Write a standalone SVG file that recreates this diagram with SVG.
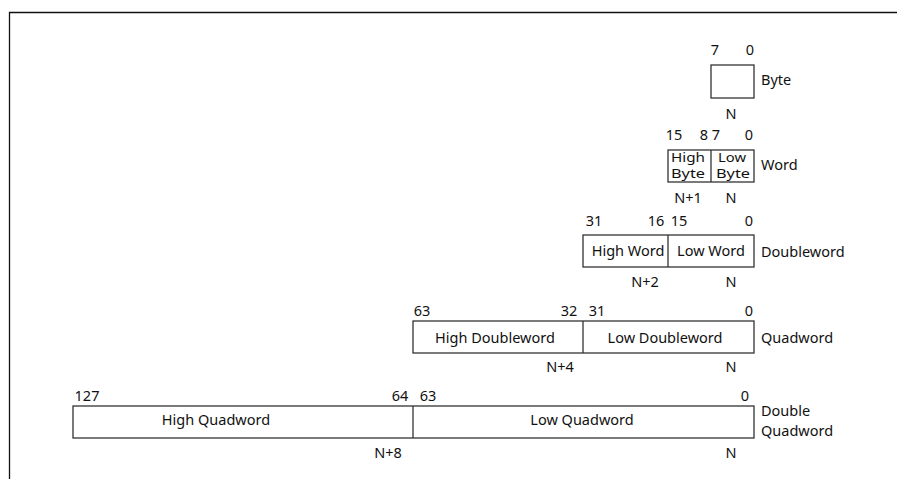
<svg xmlns="http://www.w3.org/2000/svg" width="897" height="479" viewBox="0 0 897 479">
  <style>
    text { font-family: "Noto Sans", "Open Sans", sans-serif; font-size: 14.5px; fill: #111111; }
    .m { text-anchor: middle; }
    .small { font-size: 12.5px; }
    .box { fill: #ffffff; stroke: #333333; stroke-width: 1.3; }
    .div { stroke: #333333; stroke-width: 1.3; fill: none; }
    .frame { fill: none; stroke: #111111; stroke-width: 1.3; }
  </style>
  <rect width="897" height="479" fill="#ffffff"/>
  <path class="frame" d="M9.5 479 V12.5 H897"/>

  <g id="byte">
    <text class="m" x="715" y="55">7</text>
    <text class="m" x="750" y="55">0</text>
    <rect class="box" x="711" y="65" width="43" height="33"/>
    <text x="761" y="85">Byte</text>
    <text class="m" x="731" y="119">N</text>
  </g>

  <g id="word">
    <text class="m" x="674" y="140">15</text>
    <text class="m" x="704" y="140">8</text>
    <text class="m" x="716" y="140">7</text>
    <text class="m" x="749" y="140">0</text>
    <rect class="box" x="668" y="150" width="86" height="32"/>
    <line class="div" x1="711" y1="150" x2="711" y2="182"/>
    <text class="small" x="671" y="162" textLength="34" lengthAdjust="spacingAndGlyphs">High</text>
    <text class="small" x="671" y="178" textLength="34" lengthAdjust="spacingAndGlyphs">Byte</text>
    <text class="small" x="718" y="162" textLength="28" lengthAdjust="spacingAndGlyphs">Low</text>
    <text class="small" x="716" y="178" textLength="34" lengthAdjust="spacingAndGlyphs">Byte</text>
    <text x="761" y="170">Word</text>
    <text class="m" x="688" y="203">N+1</text>
    <text class="m" x="731" y="203">N</text>
  </g>

  <g id="doubleword">
    <text class="m" x="594" y="226">31</text>
    <text class="m" x="656" y="226">16</text>
    <text class="m" x="679" y="226">15</text>
    <text class="m" x="749" y="226">0</text>
    <rect class="box" x="583" y="235" width="171" height="32"/>
    <line class="div" x1="668" y1="235" x2="668" y2="267"/>
    <text class="m" x="628" y="256">High Word</text>
    <text class="m" x="711" y="256">Low Word</text>
    <text x="761" y="257">Doubleword</text>
    <text class="m" x="645" y="287">N+2</text>
    <text class="m" x="731" y="287">N</text>
  </g>

  <g id="quadword">
    <text class="m" x="422" y="316">63</text>
    <text class="m" x="569" y="316">32</text>
    <text class="m" x="597" y="316">31</text>
    <text class="m" x="749" y="316">0</text>
    <rect class="box" x="413" y="321" width="341" height="32"/>
    <line class="div" x1="583" y1="321" x2="583" y2="353"/>
    <text class="m" x="495" y="343">High Doubleword</text>
    <text class="m" x="665" y="343">Low Doubleword</text>
    <text x="761" y="343">Quadword</text>
    <text class="m" x="560" y="372">N+4</text>
    <text class="m" x="731" y="372">N</text>
  </g>

  <g id="double-quadword">
    <text class="m" x="87" y="401">127</text>
    <text class="m" x="400" y="401">64</text>
    <text class="m" x="428" y="401">63</text>
    <text class="m" x="745" y="401">0</text>
    <rect class="box" x="73" y="406" width="681" height="32"/>
    <line class="div" x1="413" y1="406" x2="413" y2="438"/>
    <text class="m" x="216" y="425">High Quadword</text>
    <text class="m" x="582" y="425">Low Quadword</text>
    <text x="761" y="416">Double</text>
    <text x="761" y="436">Quadword</text>
    <text class="m" x="388" y="458">N+8</text>
    <text class="m" x="731" y="458">N</text>
  </g>

  <g id="connectors"></g>
</svg>
